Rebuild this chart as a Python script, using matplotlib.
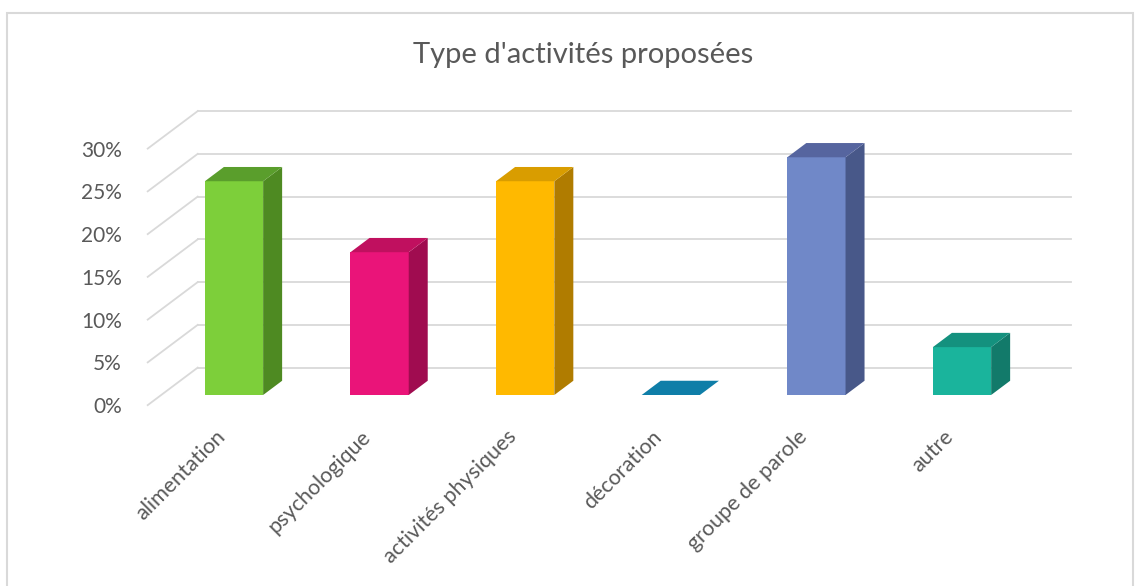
import numpy as np
import matplotlib.pyplot as plt
from matplotlib.patches import Polygon, Rectangle

# Data
categories = ['alimentation', 'psychologique', 'activités physiques',
              'décoration', 'groupe de parole', 'autre']
values = [25.0, 16.7, 25.0, 0.0, 27.8, 5.6]
y_ticks = [0, 5, 10, 15, 20, 25, 30]
y_labels = ['0%', '5%', '10%', '15%', '20%', '25%', '30%']

front_colors = ['#7dcf3a', '#ea1479', '#ffb900', '#0f7ea8', '#7088c8', '#1ab49c']
top_colors = ['#5a9e2c', '#c0105f', '#d99d00', '#0f7ea8', '#56659f', '#14917e']
side_colors = ['#4e8a22', '#a00c50', '#b07c00', '#0f7ea8', '#485889', '#127a6a']

plt.rcParams['font.family'] = ['Lato', 'DejaVu Sans']
text_color = '#595959'
grid_color = '#d9d9d9'

W, H = 1141, 586
fig = plt.figure(figsize=(W / 100, H / 100), dpi=100)
ax = fig.add_axes([130 / W, (H - 410) / H, 960 / W, 310 / H])
ax.set_xlim(-0.7143, 5.879)
ax.set_ylim(-1.754, 34.50)

# oblique depth: full depth vector (category units, percent units)
DX, DY = 0.3434, 4.386
t0, t1 = 0.27, 0.65   # bar front / back depth
bar_w = 0.40


def proj(x, v, t):
    return (x + (t - t0) * DX, v + (t - t0) * DY)


# back wall gridlines and left wall diagonals
for v in y_ticks:
    x_back, y_back = proj(-0.5, v, 1)
    x_end, _ = proj(5.5, v, 1)
    x_front, y_front = proj(-0.5, v, 0)
    ax.plot([x_back, x_end], [y_back, y_back], color=grid_color, lw=1.3, zorder=1)
    ax.plot([x_front, x_back], [y_front, y_back], color=grid_color, lw=1.3, zorder=1)

# bars
x = np.arange(len(categories))
ax.bar(x, values, width=bar_w, color=front_colors, zorder=3)
for i, v in enumerate(values):
    l, r = x[i] - bar_w / 2, x[i] + bar_w / 2
    if v > 0:
        side = [proj(r, 0, t0), proj(r, 0, t1), proj(r, v, t1), proj(r, v, t0)]
        ax.add_patch(Polygon(side, closed=True, color=side_colors[i], lw=0, zorder=3))
    top = [proj(l, v, t0), proj(r, v, t0), proj(r, v, t1), proj(l, v, t1)]
    ax.add_patch(Polygon(top, closed=True, color=top_colors[i], lw=0, zorder=3))

# axis labels
ax.set_yticks([v - t0 * DY for v in y_ticks], y_labels)
ax.set_xticks(x - 0.13, categories, rotation=45, ha='right', rotation_mode='anchor')
ax.tick_params(axis='y', length=0, pad=5.8, labelsize=15, labelcolor=text_color)
ax.tick_params(axis='x', length=0, pad=12, labelsize=15.5, labelcolor=text_color)
for s in ax.spines.values():
    s.set_visible(False)
ax.patch.set_alpha(0)

fig.text(583 / W, 1 - 55 / H, "Type d'activités proposées", ha='center', va='center',
         fontsize=21, color=text_color)

# chart border
fig.patches.append(Rectangle((7 / W, -0.01), 1126 / W, 1 - 13 / H + 0.01,
                             transform=fig.transFigure, fill=False,
                             edgecolor=grid_color, lw=1.5))

fig.savefig('out.png', dpi=100)
